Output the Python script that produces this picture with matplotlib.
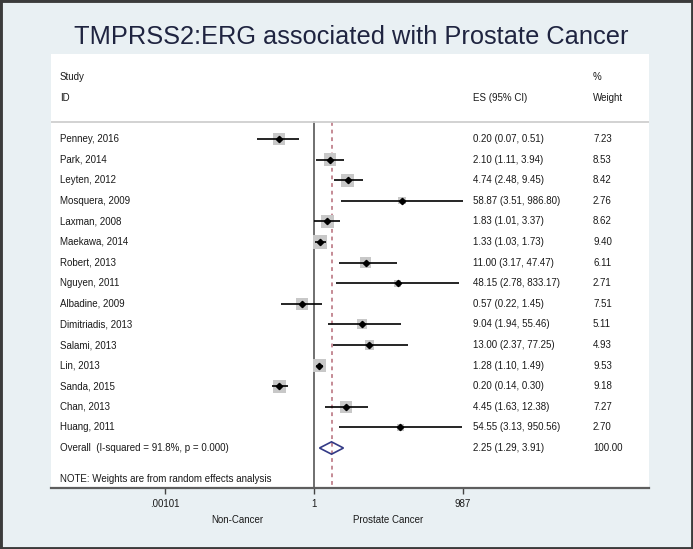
import numpy as np
import matplotlib
matplotlib.use("Agg")
from matplotlib import pyplot as plt
from matplotlib.patches import Rectangle, Polygon
from matplotlib import transforms as mtrans
from matplotlib.ticker import NullLocator

plt.rcParams['font.family'] = ['Liberation Sans', 'DejaVu Sans']

# data
studies = ["Penney, 2016", "Park, 2014", "Leyten, 2012", "Mosquera, 2009", "Laxman, 2008",
           "Maekawa, 2014", "Robert, 2013", "Nguyen, 2011", "Albadine, 2009", "Dimitriadis, 2013",
           "Salami, 2013", "Lin, 2013", "Sanda, 2015", "Chan, 2013", "Huang, 2011"]
es = [0.20, 2.10, 4.74, 58.87, 1.83, 1.33, 11.00, 48.15, 0.57, 9.04, 13.00, 1.28, 0.20, 4.45, 54.55]
lo = [0.07, 1.11, 2.48, 3.51, 1.01, 1.03, 3.17, 2.78, 0.22, 1.94, 2.37, 1.10, 0.14, 1.63, 3.13]
hi = [0.51, 3.94, 9.45, 986.80, 3.37, 1.73, 47.47, 833.17, 1.45, 55.46, 77.25, 1.49, 0.30, 12.38, 950.56]
weight = [7.23, 8.53, 8.42, 2.76, 8.62, 9.40, 6.11, 2.71, 7.51, 5.11, 4.93, 9.53, 9.18, 7.27, 2.70]
overall_label = "Overall  (I-squared = 91.8%, p = 0.000)"
overall_es, overall_lo, overall_hi, overall_w = 2.25, 1.29, 3.91, 100.00
xticks = [0.00101, 1, 987]
xticklabels = [".00101", "1", "987"]

W, H = 693, 549
fig = plt.figure(figsize=(W / 100, H / 100), dpi=100)
fig.patch.set_facecolor("#e9f0f3")
# dark frame around the picture
fig.patches.append(Rectangle((0, 0), 1, 1, transform=fig.transFigure, fill=False,
                             edgecolor="#3b3b3b", linewidth=3.5, zorder=10))

fig.text(351 / W, 1 - 37 / H, "TMPRSS2:ERG associated with Prostate Cancer",
         ha="center", va="center", fontsize=18.3, color="#1f2440")

# white panel = axes
left, right, top, bottom = 51, 649, 54, 488
ax = fig.add_axes([left / W, 1 - bottom / H, (right - left) / W, (bottom - top) / H])
ax.set_facecolor("white")
ax.set_xscale("log")
ppd = (463 - 165) / (np.log10(987) - np.log10(0.00101))
ax.set_xlim(10 ** ((left - 314) / ppd), 10 ** ((right - 314) / ppd))
row0, step = 139, 20.6
ax.set_ylim((bottom - row0) / step, (top - row0) / step)
for s in ["top", "left", "right"]:
    ax.spines[s].set_visible(False)
ax.spines["bottom"].set_color("#5e5e5e")
ax.spines["bottom"].set_linewidth(1.6)
ax.set_yticks([])
ax.set_xticks(xticks)
ax.set_xticklabels(xticklabels)
ax.xaxis.set_minor_locator(NullLocator())
ax.tick_params(axis="x", length=4, width=1, color="#444444", labelsize=7, pad=4, labelcolor="#1a1a1a")

rows = np.arange(len(studies))
ytop = (122 - row0) / step
ybot = (bottom - row0) / step

# header separator
ax.axhline(ytop, color="#cfcfcf", linewidth=1.3)
# null line and overall line
ax.plot([1, 1], [ytop, ybot], color="#6f6f6f", linewidth=1.4, zorder=1)
ax.plot([overall_es, overall_es], [ytop, ybot], color="#b56b78", linewidth=1.1,
        linestyle=(0, (2.5, 2.5)), zorder=1)

# study estimates
ax.scatter(es, rows, marker="s", s=[10.0 * w for w in weight], color="#c8c8c8", zorder=2, linewidths=0)
ax.hlines(rows, lo, hi, color="black", linewidth=1.2, zorder=3)
ax.plot(es, rows, linestyle="none", marker="D", markersize=3.2, color="black", zorder=4)

# overall diamond
yo = len(studies)
ax.add_patch(Polygon([[overall_lo, yo], [overall_es, yo - 0.3], [overall_hi, yo], [overall_es, yo + 0.3]],
                     closed=True, fill=False, edgecolor="#333a86", linewidth=1.2, zorder=4))

# text columns
tr = mtrans.blended_transform_factory(fig.transFigure, ax.transData)
fs = 7
tc = "#1a1a1a"
x_study, x_es, x_w = 60 / W, 473 / W, 593 / W
ax.text(x_study, (77 - row0) / step, "Study", transform=tr, fontsize=fs, va="center", color=tc)
ax.text(x_study, (98 - row0) / step, "ID", transform=tr, fontsize=fs, va="center", color=tc)
ax.text(x_es, (98 - row0) / step, "ES (95% CI)", transform=tr, fontsize=fs, va="center", color=tc)
ax.text(x_w, (77 - row0) / step, "%", transform=tr, fontsize=fs, va="center", color=tc)
ax.text(x_w, (98 - row0) / step, "Weight", transform=tr, fontsize=fs, va="center", color=tc)
for i, name in enumerate(studies):
    ax.text(x_study, i, name, transform=tr, fontsize=fs, va="center", color=tc)
    ax.text(x_es, i, f"{es[i]:.2f} ({lo[i]:.2f}, {hi[i]:.2f})", transform=tr, fontsize=fs, va="center", color=tc)
    ax.text(x_w, i, f"{weight[i]:.2f}", transform=tr, fontsize=fs, va="center", color=tc)
ax.text(x_study, yo, overall_label, transform=tr, fontsize=fs, va="center", color=tc)
ax.text(x_es, yo, f"{overall_es:.2f} ({overall_lo:.2f}, {overall_hi:.2f})", transform=tr,
        fontsize=fs, va="center", color=tc)
ax.text(x_w, yo, f"{overall_w:.2f}", transform=tr, fontsize=fs, va="center", color=tc)
ax.text(x_study, (479 - row0) / step, "NOTE: Weights are from random effects analysis",
        transform=tr, fontsize=fs, va="center", color=tc)

fig.text(237 / W, 1 - 520 / H, "Non-Cancer", ha="center", va="center", fontsize=fs, color=tc)
fig.text(388 / W, 1 - 520 / H, "Prostate Cancer", ha="center", va="center", fontsize=fs, color=tc)

fig.savefig("out.png", dpi=100, facecolor=fig.get_facecolor())
